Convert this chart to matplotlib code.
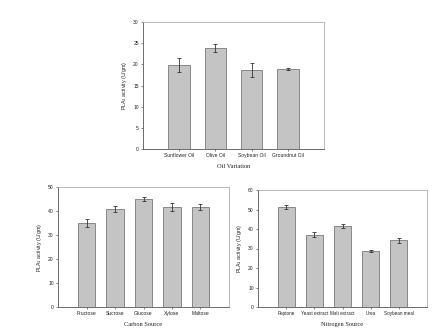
import matplotlib
matplotlib.use("Agg")
import matplotlib.pyplot as plt

oil_labels = ["Sunflower Oil", "Olive Oil", "Soybean Oil", "Groundnut Oil"]
oil_values = [19.8, 23.9, 18.7, 18.9]
oil_errors = [1.6, 0.9, 1.6, 0.3]

carbon_labels = ["Fructose", "Sucrose", "Glucose", "Xylose", "Maltose"]
carbon_values = [35.0, 40.8, 45.0, 41.7, 41.7]
carbon_errors = [1.5, 1.2, 1.0, 1.5, 1.3]

nitrogen_labels = ["Peptone", "Yeast extract", "Malt extract", "Urea", "Soybean meal"]
nitrogen_values = [51.5, 37.0, 41.5, 28.7, 34.2]
nitrogen_errors = [1.0, 1.3, 1.0, 0.3, 1.3]

W, H = 438, 333
fig = plt.figure(figsize=(W / 100, H / 100), dpi=100)

def ax_at(l, t, r, b):
    return fig.add_axes([l / W, 1 - b / H, (r - l) / W, (b - t) / H])

def panel(ax, labels, values, errors, ymax, ystep, xlabel, xfs=3.6):
    x = list(range(len(labels)))
    ax.bar(x, values, width=0.6, color="#c4c4c4", edgecolor="#7a7a7a", linewidth=0.6, zorder=2)
    ax.errorbar(x, values, yerr=errors, fmt="none", ecolor="#333333", elinewidth=0.6,
                capsize=1.5, capthick=0.6, zorder=3)
    ax.set_xlim(-1, len(labels))
    ax.set_ylim(0, ymax)
    ax.set_yticks(range(0, ymax + 1, ystep))
    ax.set_xticks(x)
    ax.set_xticklabels(labels, fontsize=xfs, family="Liberation Sans", color="#222222")
    for lab in ax.get_yticklabels():
        lab.set_fontsize(3.6)
        lab.set_family("Liberation Sans")
        lab.set_color("#222222")
    ax.tick_params(axis="both", length=1.5, width=0.5, pad=1.5, colors="#555555", labelcolor="#222222")
    for s in ["left", "bottom"]:
        ax.spines[s].set_color("#555555")
        ax.spines[s].set_linewidth(0.6)
    for s in ["top", "right"]:
        ax.spines[s].set_color("#b0b0b0")
        ax.spines[s].set_linewidth(0.6)
    ax.set_ylabel("PLA$_1$ activity (U/gm)", fontsize=3.8, family="Liberation Sans", labelpad=3, color="#222222")
    ax.set_xlabel(xlabel, fontsize=4.6, family="Liberation Serif", labelpad=4, color="#222222")

ax1 = ax_at(143, 22, 324, 149)
panel(ax1, oil_labels, oil_values, oil_errors, 30, 5, "Oil Variation")

ax2 = ax_at(58, 187, 229, 307)
panel(ax2, carbon_labels, carbon_values, carbon_errors, 50, 10, "Carbon Source")

ax3 = ax_at(258, 190, 427, 307)
panel(ax3, nitrogen_labels, nitrogen_values, nitrogen_errors, 60, 10, "Nitrogen Source", xfs=3.3)

fig.savefig("out.png", dpi=100, facecolor="white")
